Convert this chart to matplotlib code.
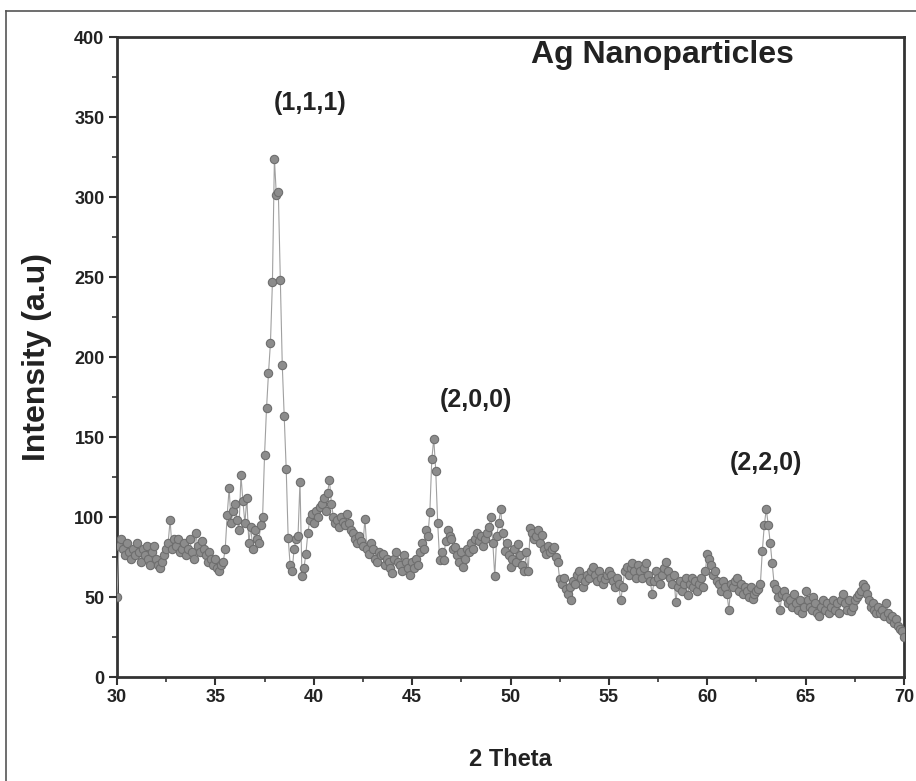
import numpy as np
import matplotlib
matplotlib.use("Agg")
import matplotlib.pyplot as plt
from matplotlib.lines import Line2D
from matplotlib.ticker import MultipleLocator

plt.rcParams['font.family'] = ['Liberation Sans', 'DejaVu Sans']

# 2-theta from 30 to 70 in 0.1 steps
theta_start = 30.0
theta_step = 0.1
intensity = [
    50, 82, 86, 80, 76, 84, 78, 74, 80, 76,     # 30
    84, 78, 72, 80, 76, 82, 74, 70, 78, 82,     # 31
    74, 70, 68, 72, 76, 80, 84, 98, 80, 86,     # 32
    82, 86, 78, 80, 84, 76, 80, 86, 78, 74,     # 33
    90, 82, 78, 85, 80, 76, 72, 78, 74, 70,     # 34
    74, 68, 66, 70, 72, 80, 101, 118, 96, 104,  # 35
    108, 98, 92, 126, 110, 96, 112, 84, 94, 80, # 36
    92, 86, 84, 95, 100, 139, 168, 190, 209, 247,   # 37
    324, 301, 303, 248, 195, 163, 130, 87, 70, 66,  # 38
    80, 86, 88, 122, 63, 68, 77, 90, 98, 102,   # 39
    96, 104, 100, 106, 108, 112, 104, 115, 123, 108,  # 40
    100, 96, 98, 94, 100, 97, 95, 102, 96, 92,  # 41
    90, 86, 84, 88, 85, 82, 99, 80, 77, 84,     # 42
    80, 74, 72, 78, 76, 77, 70, 74, 72, 68,     # 43
    65, 74, 78, 72, 70, 66, 76, 72, 68, 64,     # 44
    72, 68, 74, 70, 78, 84, 80, 92, 88, 103,    # 45
    136, 149, 129, 96, 73, 78, 73, 85, 92, 88,  # 46
    86, 80, 81, 76, 72, 78, 69, 74, 80, 78,     # 47
    84, 80, 86, 90, 85, 88, 82, 86, 90, 94,     # 48
    100, 84, 63, 88, 96, 105, 90, 79, 84, 76,   # 49
    69, 74, 80, 72, 83, 76, 70, 66, 78, 66,     # 50
    93, 90, 86, 88, 92, 84, 89, 80, 77, 82,     # 51
    78, 80, 81, 75, 72, 61, 58, 62, 55, 52,     # 52
    56, 48, 60, 58, 64, 66, 62, 56, 60, 64,     # 53
    62, 66, 69, 64, 60, 66, 62, 58, 61, 64,     # 54
    66, 64, 60, 56, 62, 58, 48, 56, 66, 69,     # 55
    64, 68, 71, 66, 62, 70, 66, 62, 68, 71,     # 56
    64, 60, 52, 60, 66, 62, 58, 64, 68, 72,     # 57
    66, 62, 58, 64, 47, 56, 60, 54, 58, 62,     # 58
    51, 58, 62, 56, 60, 54, 58, 62, 56, 66,     # 59
    77, 74, 70, 64, 66, 60, 58, 54, 60, 56,     # 60
    52, 42, 58, 56, 60, 62, 54, 58, 52, 56,     # 61
    54, 50, 56, 49, 52, 54, 55, 58, 79, 95,     # 62
    105, 95, 84, 71, 58, 55, 50, 42, 52, 54,    # 63
    50, 46, 48, 44, 52, 46, 42, 48, 40, 44,     # 64
    54, 48, 44, 42, 50, 46, 40, 38, 44, 48,     # 65
    42, 46, 40, 44, 48, 42, 46, 40, 48, 52,     # 66
    46, 42, 48, 41, 44, 48, 50, 52, 54, 58,     # 67
    56, 52, 48, 44, 46, 42, 40, 44, 40, 42,     # 68
    38, 46, 40, 36, 38, 34, 36, 32, 30, 29,     # 69
    25,                                         # 70
]
two_theta = theta_start + theta_step * np.arange(len(intensity))

peak_labels = ["(1,1,1)", "(2,0,0)", "(2,2,0)"]
peak_label_x = [39.8, 48.25, 63.0]
peak_label_y = [359, 173, 134]

x_ticks = [30, 35, 40, 45, 50, 55, 60, 65, 70]
y_ticks = [0, 50, 100, 150, 200, 250, 300, 350, 400]

fig = plt.figure(figsize=(9.16, 7.81), dpi=100)
ax = fig.add_axes([117/916, 1-677/781, 787/916, 640/781])

ax.plot(two_theta, intensity, color='#a0a0a0', lw=0.8, marker='o',
        markersize=6, markerfacecolor='#8c8c8c', markeredgecolor='#6e6e6e',
        markeredgewidth=0.8, zorder=3)

ax.set_xlim(30, 70)
ax.set_ylim(0, 400)
ax.set_xticks(x_ticks)
ax.set_yticks(y_ticks)
ax.xaxis.set_minor_locator(MultipleLocator(2.5))
ax.yaxis.set_minor_locator(MultipleLocator(25))
ax.tick_params(which='major', direction='out', length=6, width=1.5, color='#333333',
               labelsize=13, pad=3)
ax.tick_params(which='minor', direction='out', length=3.5, width=1.2, color='#333333')
for lab in ax.get_xticklabels() + ax.get_yticklabels():
    lab.set_fontweight('bold')
    lab.set_color('#222222')
for sp in ax.spines.values():
    sp.set_linewidth(2)
    sp.set_color('#333333')

ax.set_xlabel('2 Theta', fontsize=17, fontweight='bold', color='#222222', labelpad=30)
ax.set_ylabel('Intensity (a.u)', fontsize=23, fontweight='bold', color='#222222', labelpad=16)

for t, xx, yy in zip(peak_labels, peak_label_x, peak_label_y):
    ax.text(xx, yy, t, ha='center', va='center', fontsize=18, fontweight='bold',
            color='#222222')
ax.text(57.7, 389, 'Ag Nanoparticles', ha='center', va='center', fontsize=23,
        fontweight='bold', color='#222222')

# outer frame lines
fig.add_artist(Line2D([6/916, 1.0], [1-11/781, 1-11/781], color='#555555', lw=1.2))
fig.add_artist(Line2D([6/916, 6/916], [0, 1-11/781], color='#555555', lw=1.2))

fig.savefig('out.png', dpi=100)
